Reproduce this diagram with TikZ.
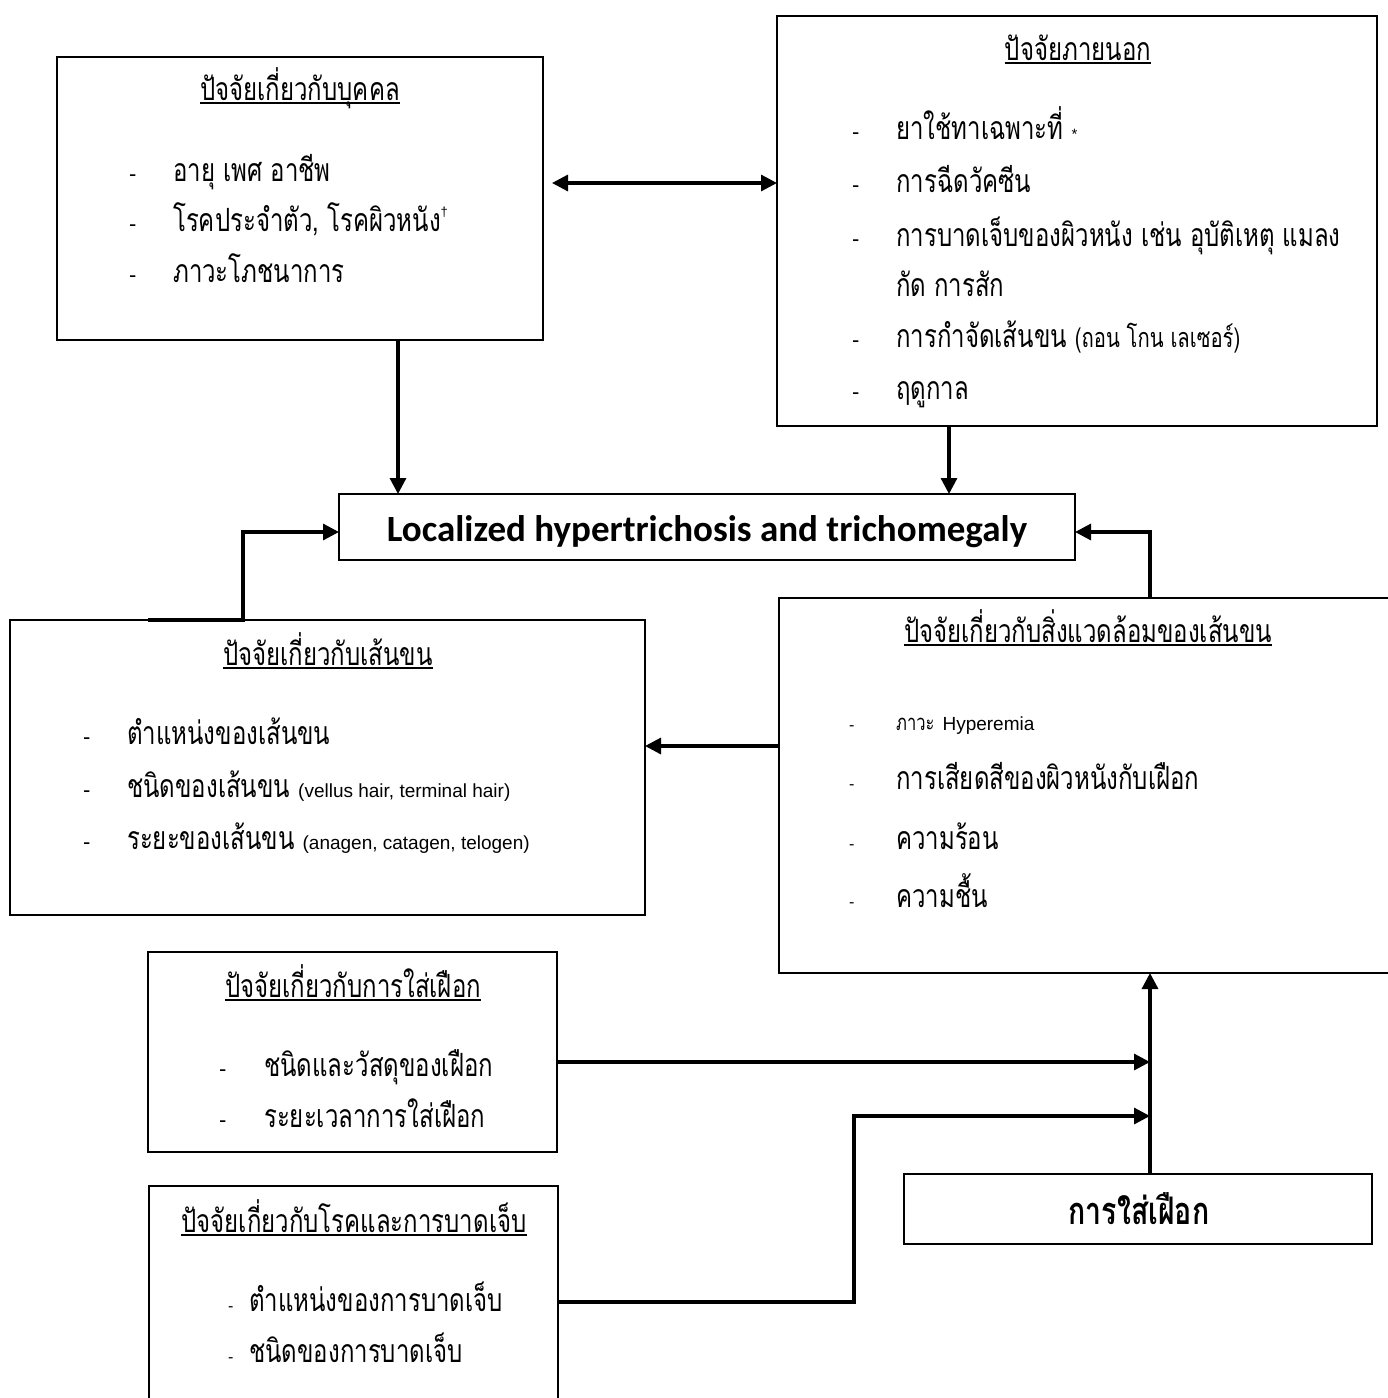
\documentclass[tikz,border=0pt]{standalone}
\usepackage{fontspec}
\usetikzlibrary{arrows.meta}
\newfontfamily\thaifont[Script=Thai,FakeStretch=0.75]{Loma}
\newfontfamily\latfont{Liberation Sans}
\newfontfamily\calfont{Carlito}
\newcommand\entext[1]{{\latfont\fontsize{19}{22}\selectfont #1}}
\tikzset{
 box/.style={draw, line width=2.8pt, anchor=north west, inner sep=0pt, outer sep=0pt},
 conn/.style={line width=3.2pt},
 arr/.style={conn, -{Triangle[length=16pt,width=16pt]}},
 darr/.style={conn, {Triangle[length=16pt,width=16pt]}-{Triangle[length=16pt,width=16pt]}},
 txt/.style={inner sep=0pt, anchor=base west, font=\thaifont\fontsize{32}{36}\selectfont},
 ttl/.style={inner sep=0pt, anchor=base, font=\thaifont\fontsize{32}{36}\selectfont},
 dsh/.style={inner sep=0pt, anchor=base west, font=\latfont\fontsize{22}{22}\selectfont},
 sdsh/.style={inner sep=0pt, anchor=base west, font=\latfont\fontsize{16}{16}\selectfont},
 uline/.style={line width=1.4pt},
}
\newcommand\ulnode[1]{\draw[uline] ([yshift=-3pt]#1.base west) -- ([yshift=-3pt]#1.base east);}
\begin{document}
\begin{tikzpicture}[x=1pt,y=-1pt]
\useasboundingbox (0,0) rectangle (1388,1398);
\clip (0,0) rectangle (1388,1398);
% boxes
\node[box, minimum width=486pt, minimum height=283pt] (A) at (57,57) {};
\node[box, minimum width=600pt, minimum height=410pt] (B) at (777,16) {};
\node[box, minimum width=736pt, minimum height=66pt] (M) at (339,494) {};
\node[box, minimum width=635pt, minimum height=295pt] (C) at (10,620) {};
\node[box, minimum width=700pt, minimum height=375pt] (D) at (779,598) {};
\node[box, minimum width=409pt, minimum height=200pt] (E) at (148,952) {};
\node[box, minimum width=409pt, minimum height=300pt] (F) at (149,1186) {};
\node[box, minimum width=468pt, minimum height=70pt] (G) at (904,1174) {};
% box A
\node[ttl] (At) at (300,100) {ปัจจัยเกี่ยวกับบุคคล}; \ulnode{At}
\node[dsh] (Ad1) at (129,181) {-}; \node[txt] (A1) at (173,181) {อายุ เพศ อาชีพ};
\node[dsh] (Ad2) at (129,231) {-}; \node[txt] (A2) at (173,231) {โรคประจำตัว, โรคผิวหนัง\raisebox{0.45em}{\latfont\fontsize{13}{13}\selectfont †}};
\node[dsh] (Ad3) at (129,282) {-}; \node[txt] (A3) at (173,282) {ภาวะโภชนาการ};
% box B
\node[ttl] (Bt) at (1078,60) {ปัจจัยภายนอก}; \ulnode{Bt}
\node[dsh] (Bd1) at (852,139) {-}; \node[txt] (B1) at (896,139) {ยาใช้ทาเฉพาะที่ {\latfont\fontsize{15}{15}\selectfont *}};
\node[dsh] (Bd2) at (852,192) {-}; \node[txt] (B2) at (896,192) {การฉีดวัคซีน};
\node[dsh] (Bd3) at (852,246) {-}; \node[txt] (B3) at (896,246) {การบาดเจ็บของผิวหนัง เช่น อุบัติเหตุ แมลง};
\node[txt] (B3b) at (896,296) {กัด การสัก};
\node[dsh] (Bd4) at (852,347) {-}; \node[txt] (B4) at (896,347) {การกำจัดเส้นขน {\fontsize{27}{27}\selectfont (ถอน โกน เลเซอร์)}};
\node[dsh] (Bd5) at (852,399) {-}; \node[txt] (B5) at (896,399) {ฤดูกาล};
% central
\node[inner sep=0pt, anchor=base, font=\calfont\bfseries\fontsize{37}{42}\selectfont] (Mt) at (707,541) {Localized hypertrichosis and trichomegaly};
% box C
\node[ttl] (Ct) at (328,665) {ปัจจัยเกี่ยวกับเส้นขน}; \ulnode{Ct}
\node[dsh] (Cd1) at (83,744) {-}; \node[txt] (C1) at (127,744) {ตำแหน่งของเส้นขน};
\node[dsh] (Cd2) at (83,797) {-}; \node[txt] (C2) at (127,797) {ชนิดของเส้นขน \entext{(vellus hair, terminal hair)}};
\node[dsh] (Cd3) at (83,849) {-}; \node[txt] (C3) at (127,849) {ระยะของเส้นขน \entext{(anagen, catagen, telogen)}};
% box D
\node[ttl] (Dt) at (1088,642) {ปัจจัยเกี่ยวกับสิ่งแวดล้อมของเส้นขน}; \ulnode{Dt}
\node[sdsh] (Dd1) at (849,730) {-}; \node[txt] (D1) at (896,730) {{\fontsize{22}{22}\selectfont ภาวะ} \entext{Hyperemia}};
\node[sdsh] (Dd2) at (849,789) {-}; \node[txt] (D2) at (896,789) {การเสียดสีของผิวหนังกับเฝือก};
\node[sdsh] (Dd3) at (849,849) {-}; \node[txt] (D3) at (896,849) {ความร้อน};
\node[sdsh] (Dd4) at (849,907) {-}; \node[txt] (D4) at (896,907) {ความชื้น};
% box E
\node[ttl] (Et) at (353,997) {ปัจจัยเกี่ยวกับการใส่เฝือก}; \ulnode{Et}
\node[dsh] (Ed1) at (219,1076) {-}; \node[txt] (E1) at (264,1076) {ชนิดและวัสดุของเฝือก};
\node[dsh] (Ed2) at (219,1127) {-}; \node[txt] (E2) at (264,1127) {ระยะเวลาการใส่เฝือก};
% box F
\node[ttl] (Ft) at (354,1232) {ปัจจัยเกี่ยวกับโรคและการบาดเจ็บ}; \ulnode{Ft}
\node[sdsh] (Fd1) at (228,1311) {-}; \node[txt] (F1) at (249,1311) {ตำแหน่งของการบาดเจ็บ};
\node[sdsh] (Fd2) at (228,1362) {-}; \node[txt] (F2) at (249,1362) {ชนิดของการบาดเจ็บ};
% box G
\node[inner sep=0pt, anchor=base, font=\thaifont\bfseries\fontsize{38}{42}\selectfont] (Gt) at (1139,1224) {การใส่เฝือก};
% helper coordinates
\coordinate (y183) at (0,183);
\coordinate (y532) at (0,532);
\coordinate (y746) at (0,746);
\coordinate (y1062) at (0,1062);
\coordinate (y1116) at (0,1116);
\coordinate (y1302) at (0,1302);
\coordinate (x148) at (148,0);
\coordinate (x243) at (243,0);
\coordinate (x398) at (398,0);
\coordinate (x949) at (949,0);
\coordinate (x1150) at (1150,0);
\coordinate (x854) at (854,0);
% connectors
\draw[darr] ([xshift=9pt]A.east |- y183) -- (B.west |- y183);
\draw[arr] (x398 |- A.south) -- (x398 |- M.north);
\draw[arr] (x949 |- B.south) -- (x949 |- M.north);
\draw[arr] (x148 |- C.north) -- (x243 |- C.north) -- (x243 |- y532) -- (M.west |- y532);
\draw[arr] (x1150 |- D.north) -- (x1150 |- y532) -- (M.east |- y532);
\draw[arr] (D.west |- y746) -- (C.east |- y746);
\draw[arr] (x1150 |- G.north) -- (x1150 |- D.south);
\draw[arr] (E.east |- y1062) -- (x1150 |- y1062);
\draw[arr] (F.east |- y1302) -- (x854 |- y1302) -- (x854 |- y1116) -- (x1150 |- y1116);
\end{tikzpicture}
\end{document}
